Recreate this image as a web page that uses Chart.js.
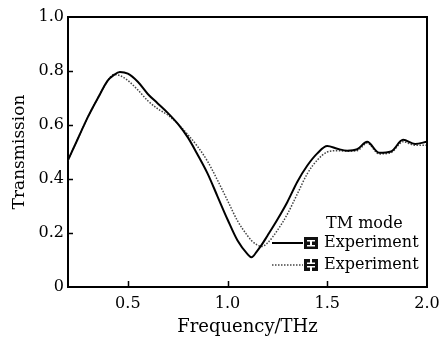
<!DOCTYPE html>
<html>
<head>
<meta charset="utf-8">
<script src="https://cdn.jsdelivr.net/npm/chart.js@4.4.1/dist/chart.umd.min.js"></script>
<style>
  body { margin: 0; background: #fff; }
  canvas { display: block; }
</style>
</head>
<body>
<canvas id="chart" width="440" height="338"></canvas>
<script>
// frequency grid (THz) shared by both curves
const freqs = [0.2, 0.25, 0.3, 0.35, 0.4, 0.43, 0.46, 0.5, 0.55, 0.6, 0.65, 0.7, 0.75, 0.8, 0.85, 0.9, 0.95,
    1.0, 1.05, 1.1, 1.12, 1.15, 1.17, 1.2, 1.25, 1.3, 1.35, 1.4, 1.45, 1.5, 1.55, 1.6, 1.65, 1.7, 1.76, 1.82, 1.88, 1.94, 2.0];

// solid curve
const solidValues = [0.47, 0.55, 0.63, 0.70, 0.765, 0.785, 0.796, 0.79, 0.76, 0.715, 0.68, 0.645, 0.605, 0.555, 0.49, 0.42, 0.335,
    0.25, 0.172, 0.122, 0.11, 0.135, 0.155, 0.19, 0.25, 0.315, 0.39, 0.45, 0.495, 0.522, 0.512, 0.505, 0.51, 0.538, 0.497, 0.502, 0.545, 0.53, 0.538];

// dotted curve
const dottedValues = [0.47, 0.55, 0.63, 0.70, 0.765, 0.787, 0.783, 0.765, 0.73, 0.69, 0.66, 0.637, 0.605, 0.565, 0.52, 0.465, 0.395,
    0.32, 0.245, 0.19, 0.172, 0.155, 0.15, 0.163, 0.21, 0.27, 0.345, 0.42, 0.47, 0.5, 0.505, 0.503, 0.505, 0.533, 0.493, 0.498, 0.538, 0.525, 0.525];

const xTicks = [0.5, 1.0, 1.5, 2.0];
const xTickLabels = ['0.5', '1.0', '1.5', '2.0'];
const yTicks = [0, 0.2, 0.4, 0.6, 0.8, 1.0];
const yTickLabels = ['0', '0.2', '0.4', '0.6', '0.8', '1.0'];

const legendTitle = 'TM mode';
const legendLabels = ['Experiment', 'Experiment'];

const serif = 'DejaVu Serif';

function toPoints(values) {
    return freqs.map((f, i) => ({ x: f, y: values[i] }));
}

// box, inward ticks and legend
const framePlugin = {
    id: 'frame',
    afterDraw(chart) {
        const ctx = chart.ctx;
        const a = chart.chartArea;
        const xs = chart.scales.x;
        const ys = chart.scales.y;

        ctx.save();
        ctx.strokeStyle = '#000';
        ctx.lineWidth = 2;
        ctx.beginPath();
        ctx.moveTo(a.left, a.top);
        ctx.lineTo(a.right, a.top);
        ctx.lineTo(a.right, a.bottom);
        ctx.stroke();

        ctx.lineWidth = 1.5;
        ctx.beginPath();
        xs.ticks.forEach(t => {
            if (t.value >= xs.max) return;
            const px = Math.round(xs.getPixelForValue(t.value)) + 0.5;
            ctx.moveTo(px, a.bottom);
            ctx.lineTo(px, a.bottom - 6);
        });
        ys.ticks.forEach(t => {
            if (t.value <= ys.min || t.value >= ys.max) return;
            const py = Math.round(ys.getPixelForValue(t.value)) + 0.5;
            ctx.moveTo(a.left, py);
            ctx.lineTo(a.left + 5, py);
        });
        ctx.stroke();

        // legend
        ctx.fillStyle = '#000';
        ctx.font = '16px "' + serif + '"';
        ctx.textBaseline = 'middle';
        ctx.textAlign = 'left';
        ctx.fillText(legendTitle, 326, 224);

        const rows = [243, 265];
        rows.forEach((y, i) => {
            const ds = chart.data.datasets[i];
            ctx.save();
            ctx.strokeStyle = ds.borderColor;
            ctx.lineWidth = ds.borderWidth;
            ctx.setLineDash(ds.borderDash || []);
            ctx.beginPath();
            ctx.moveTo(272, y);
            ctx.lineTo(303, y);
            ctx.stroke();
            ctx.restore();

            // black icon with white error-bar glyph
            ctx.fillStyle = '#111';
            ctx.fillRect(304, y - 6, 14, 12);
            ctx.fillStyle = '#fff';
            if (i === 0) {
                ctx.fillRect(307, y - 3, 8, 1.5);
                ctx.fillRect(310, y - 3, 2, 6);
                ctx.fillRect(307, y + 2, 8, 1.5);
            } else {
                ctx.fillRect(310, y - 6, 2, 4);
                ctx.fillRect(307, y - 2.5, 8, 1.5);
                ctx.fillRect(307, y + 1, 8, 1.5);
                ctx.fillRect(310, y + 2, 2, 4);
            }
            ctx.fillStyle = '#000';
            ctx.fillText(legendLabels[i], 324, y);
        });
        ctx.restore();
    }
};

const tickFont = { family: serif, size: 16 };
const titleFont = { family: serif, size: 18 };

new Chart(document.getElementById('chart'), {
    type: 'line',
    data: {
        datasets: [
            {
                data: toPoints(solidValues),
                borderColor: '#000',
                borderWidth: 2,
                pointRadius: 0,
                fill: false,
                cubicInterpolationMode: 'monotone'
            },
            {
                data: toPoints(dottedValues),
                borderColor: '#444',
                borderWidth: 1.5,
                borderDash: [1.5, 1.5],
                pointRadius: 0,
                fill: false,
                cubicInterpolationMode: 'monotone'
            }
        ]
    },
    options: {
        responsive: false,
        animation: false,
        layout: { padding: { top: 17, right: 13, left: 0, bottom: 0 } },
        plugins: {
            legend: { display: false },
            tooltip: { enabled: false }
        },
        scales: {
            x: {
                type: 'linear',
                min: 0.2,
                max: 2.0,
                afterBuildTicks: s => { s.ticks = xTicks.map(v => ({ value: v })); },
                afterFit: s => { s.height = 51; s.paddingLeft = 0; s.paddingRight = 0; },
                grid: { display: false, drawTicks: false },
                border: { display: true, color: '#000', width: 2 },
                ticks: {
                    color: '#000',
                    font: tickFont,
                    padding: 7,
                    maxRotation: 0,
                    callback: (v, i) => xTickLabels[i]
                },
                title: {
                    display: true,
                    text: 'Frequency/THz',
                    color: '#000',
                    font: titleFont,
                    padding: { top: 1, bottom: 0 }
                }
            },
            y: {
                type: 'linear',
                min: 0,
                max: 1.0,
                afterBuildTicks: s => { s.ticks = yTicks.map(v => ({ value: v })); },
                afterFit: s => { s.width = 68; s.paddingTop = 0; s.paddingBottom = 0; },
                grid: { display: false, drawTicks: false },
                border: { display: true, color: '#000', width: 2 },
                ticks: {
                    color: '#000',
                    font: tickFont,
                    padding: 4,
                    callback: (v, i) => yTickLabels[i]
                },
                title: {
                    display: true,
                    text: 'Transmission',
                    color: '#000',
                    font: { family: serif, size: 17 },
                    padding: { top: 9, bottom: 0 }
                }
            }
        }
    },
    plugins: [framePlugin]
});
</script>
</body>
</html>
